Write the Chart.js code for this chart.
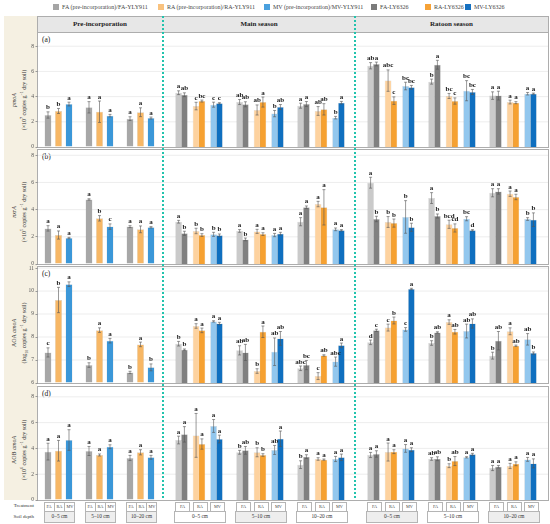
<!DOCTYPE html>
<html><head><meta charset="utf-8">
<script src="https://cdn.jsdelivr.net/npm/chart.js@4.4.1/dist/chart.umd.min.js"></script>
<style>
body{margin:0;width:550px;height:524px;position:relative;background:#fff;font-family:"Liberation Serif",serif;overflow:hidden;color:#222}
.a{position:absolute;box-sizing:border-box}
canvas{position:absolute}
.box{border:1px solid #adadad}
.leg{position:absolute;top:3px;font-size:6px;line-height:8px;white-space:nowrap;color:#444}
.leg i{display:inline-block;width:6px;height:6px;vertical-align:-1px;margin-right:3px}
.yt{position:absolute;width:140px;height:22px;transform:rotate(-90deg);text-align:center;font-size:6px;line-height:10px;white-space:nowrap;color:#333}
.yt sup,.yt sub{font-size:4px;line-height:0}
.tb{position:absolute;border:0.6px solid #b5b5b5;font-size:4.3px;text-align:center;color:#444;background:#fff}
.db{position:absolute;border:0.6px solid #b5b5b5;font-size:5.3px;text-align:center;color:#333}
.hd{position:absolute;top:16px;height:16px;line-height:16px;font-size:7px;font-weight:bold;text-align:center;color:#222}
.dash{position:absolute;top:16px;height:484px;width:2px;background:repeating-linear-gradient(to bottom,#22c3ad 0px,#22c3ad 2px,rgba(255,255,255,0) 2px,rgba(255,255,255,0) 4px);z-index:5}
</style></head><body>
<script>
// ---------- categories / labels ----------
const depths = ['0–5 cm', '5–10 cm', '10–20 cm'];
const seasons = ['Pre-incorporation', 'Main season', 'Ratoon season'];
const treatments = ['FA', 'RA', 'MV'];
const seriesNames = ['FA (pre-incorporation)/FA-YLY911', 'RA (pre-incorporation)/RA-YLY911', 'MV (pre-incorporation)/MV-YLY911', 'FA-LY6326', 'RA-LY6326', 'MV-LY6326'];
// each array: pre(0–5,5–10,10–20), main(0–5,5–10,10–20), ratoon(0–5,5–10,10–20)

// ---------- (a) pmoA ----------
const a_FA911 = [2.54, 3.15, 2.25, 4.31, 3.57, 3.28, 6.45, 5.19, 4.08];
const a_FA911_sd = [0.25, 0.45, 0.15, 0.15, 0.2, 0.2, 0.25, 0.2, 0.3];
const a_FA911_sig = ['b', 'a', 'a', 'a', 'ab', 'a', 'ab', 'b', 'a'];
const a_FA6326 = [null, null, null, 4.15, 3.39, 3.41, 6.59, 6.53, 4.08];
const a_FA6326_sd = [0, 0, 0, 0.15, 0.2, 0.2, 0.15, 0.35, 0.35];
const a_FA6326_sig = ['', '', '', 'ab', 'ab', 'a', 'a', 'a', 'a'];
const a_RA911 = [2.86, 2.8, 2.76, 3.25, 2.94, 2.86, 5.27, 4.05, 3.57];
const a_RA911_sd = [0.2, 0.85, 0.35, 0.3, 0.4, 0.35, 0.85, 0.2, 0.15];
const a_RA911_sig = ['b', 'a', 'a', 'c', 'ab', 'ab', 'abc', 'bc', 'a'];
const a_RA6326 = [null, null, null, 3.65, 3.57, 2.99, 3.68, 3.65, 3.52];
const a_RA6326_sd = [0, 0, 0, 0.08, 0.4, 0.45, 0.3, 0.25, 0.08];
const a_RA6326_sig = ['', '', '', 'bc', 'a', 'ab', 'c', 'c', 'a'];
const a_MV911 = [3.41, 2.49, 2.3, 3.36, 2.65, 2.33, 4.84, 4.47, 4.23];
const a_MV911_sd = [0.15, 0.1, 0.08, 0.2, 0.25, 0.1, 0.3, 0.8, 0.1];
const a_MV911_sig = ['a', 'a', 'a', 'c', 'b', 'b', 'bc', 'bc', 'a'];
const a_MV6326 = [null, null, null, 3.47, 3.17, 3.52, 4.74, 4.37, 4.23];
const a_MV6326_sd = [0, 0, 0, 0.05, 0.2, 0.1, 0.15, 0.2, 0.05];
const a_MV6326_sig = ['', '', '', 'c', 'ab', 'a', 'bc', 'bc', 'a'];

// ---------- (b) nxrA ----------
const b_FA911 = [2.62, 4.75, 2.75, 3.11, 2.43, 3.11, 5.98, 4.85, 5.24];
const b_FA911_sd = [0.2, 0.05, 0.07, 0.1, 0.1, 0.3, 0.4, 0.4, 0.3];
const b_FA911_sig = ['a', 'a', 'a', 'a', 'a', 'a', 'a', 'a', 'a'];
const b_FA6326 = [null, null, null, 2.26, 1.81, 4.17, 3.31, 3.53, 5.34];
const b_FA6326_sd = [0, 0, 0, 0.15, 0.1, 0.1, 0.2, 0.15, 0.2];
const b_FA6326_sig = ['', '', '', 'b', 'b', 'a', 'b', 'b', 'a'];
const b_RA911 = [2.13, 3.36, 2.55, 2.43, 2.4, 4.41, 3.09, 2.92, 5.17];
const b_RA911_sd = [0.3, 0.2, 0.25, 0.2, 0.15, 0.2, 0.4, 0.3, 0.2];
const b_RA911_sig = ['a', 'b', 'a', 'b', 'a', 'a', 'b', 'bcd', 'a'];
const b_RA6326 = [null, null, null, 2.13, 2.2, 4.17, 3.01, 2.65, 4.93];
const b_RA6326_sd = [0, 0, 0, 0.1, 0.1, 1.3, 0.3, 0.3, 0.2];
const b_RA6326_sig = ['', '', '', 'b', 'a', 'a', 'b', 'cd', 'a'];
const b_MV911 = [1.91, 2.75, 2.7, 2.18, 2.13, 2.55, 3.46, 3.33, 3.31];
const b_MV911_sd = [0.05, 0.2, 0.05, 0.15, 0.12, 0.1, 1.2, 0.15, 0.1];
const b_MV911_sig = ['a', 'c', 'a', 'b', 'a', 'a', 'b', 'bc', 'b'];
const b_MV6326 = [null, null, null, 2.11, 2.23, 2.48, 2.7, 2.48, 3.26];
const b_MV6326_sd = [0, 0, 0, 0.1, 0.1, 0.05, 0.3, 0.05, 0.5];
const b_MV6326_sig = ['', '', '', 'b', 'a', 'a', 'b', 'd', 'b'];

// ---------- (c) AOA amoA (log10) ----------
const c_FA911 = [7.33, 6.78, 6.46, 7.71, 7.42, 6.64, 7.77, 7.74, 7.19];
const c_FA911_sd = [0.2, 0.1, 0.05, 0.1, 0.2, 0.1, 0.1, 0.1, 0.15];
const c_FA911_sig = ['c', 'b', 'b', 'b', 'ab', 'abc', 'd', 'b', 'b'];
const c_FA6326 = [null, null, null, 7.45, 7.33, 6.78, 8.29, 8.2, 7.84];
const c_FA6326_sd = [0, 0, 0, 0.03, 0.35, 0.2, 0.05, 0.03, 0.4];
const c_FA6326_sig = ['', '', '', 'b', 'ab', 'bc', 'c', 'ab', 'ab'];
const c_RA911 = [9.61, 8.3, 7.68, 8.48, 6.52, 6.3, 8.41, 8.65, 8.25];
const c_RA911_sd = [0.55, 0.1, 0.1, 0.1, 0.1, 0.15, 0.15, 0.1, 0.15];
const c_RA911_sig = ['b', 'a', 'a', 'a', 'b', 'c', 'c', 'a', 'a'];
const c_RA6326 = [null, null, null, 8.29, 8.23, 7.2, 8.72, 8.23, 7.62];
const c_RA6326_sd = [0, 0, 0, 0.1, 0.25, 0.03, 0.15, 0.1, 0.03];
const c_RA6326_sig = ['', '', '', 'a', 'a', 'ab', 'b', 'ab', 'ab'];
const c_MV911 = [10.3, 7.84, 6.68, 8.68, 7.36, 6.93, 8.33, 8.26, 7.9];
const c_MV911_sd = [0.1, 0.1, 0.15, 0.03, 0.6, 0.2, 0.08, 0.3, 0.25];
const c_MV911_sig = ['a', 'a', 'b', 'a', 'ab', 'abc', 'c', 'ab', 'ab'];
const c_MV6326 = [null, null, null, 8.59, 7.94, 7.64, 10.09, 8.59, 7.3];
const c_MV6326_sd = [0, 0, 0, 0.05, 0.3, 0.1, 0.03, 0.2, 0.05];
const c_MV6326_sig = ['', '', '', 'a', 'ab', 'a', 'a', 'ab', 'b'];

// ---------- (d) AOB amoA ----------
const d_FA911 = [3.75, 3.8, 3.26, 4.65, 3.7, 2.74, 3.49, 3.18, 2.48];
const d_FA911_sd = [0.65, 0.35, 0.2, 0.3, 0.15, 0.3, 0.2, 0.1, 0.2];
const d_FA911_sig = ['a', 'a', 'a', 'a', 'b', 'b', 'a', 'ab', 'a'];
const d_FA6326 = [null, null, null, 5.09, 3.85, 3.36, 3.57, 3.2, 2.58];
const d_FA6326_sd = [0, 0, 0, 0.6, 0.3, 0.15, 0.25, 0.15, 0.1];
const d_FA6326_sig = ['', '', '', 'a', 'ab', 'a', 'a', 'ab', 'a'];
const d_RA911 = [3.82, 3.49, 3.7, 5.01, 3.7, 3.18, 3.72, 2.66, 2.64];
const d_RA911_sd = [0.8, 0.08, 0.2, 1.7, 0.35, 0.1, 0.7, 0.15, 0.2];
const d_RA911_sig = ['a', 'a', 'a', 'a', 'b', 'a', 'a', 'b', 'a'];
const d_RA6326 = [null, null, null, 4.34, 3.49, 3.13, 3.75, 3.02, 2.81];
const d_RA6326_sd = [0, 0, 0, 0.4, 0.1, 0.05, 0.15, 0.35, 0.15];
const d_RA6326_sig = ['', '', '', 'a', 'b', 'a', 'a', 'ab', 'a'];
const d_MV911 = [4.65, 4.13, 3.31, 5.74, 3.88, 3.18, 4.0, 3.31, 3.15];
const d_MV911_sd = [0.8, 0.15, 0.15, 0.5, 0.35, 0.2, 0.3, 0.05, 0.15];
const d_MV911_sig = ['a', 'a', 'a', 'a', 'ab', 'a', 'a', 'a', 'a'];
const d_MV6326 = [null, null, null, 4.73, 4.75, 3.31, 3.9, 3.54, 2.84];
const d_MV6326_sd = [0, 0, 0, 0.3, 0.6, 0.25, 0.15, 0.08, 0.35];
const d_MV6326_sig = ['', '', '', 'a', 'a', 'a', 'a', 'a', 'a'];

// ---------- axis ticks ----------
const ticks_a = [0, 2, 4, 6, 8];
const ticks_b = [0, 2, 4, 6, 8];
const ticks_c = [6, 7, 8, 9, 10, 11];
const ticks_d = [0, 2, 4, 6, 8];

// ---------- styling ----------
const preColors = ['#a7a7a7', '#f7b765', '#3b97d8'];
const c911Colors = ['#cacaca', '#fdd29f', '#92c7ee'];
const c6326Colors = ['#808080', '#f6a131', '#0f6fbf'];
const legendColors = ['#a5a5a5', '#f9c27e', '#4aa0de', '#7b7b7b', '#f6a236', '#1570c0'];

const panels = [
  {id: '(a)', top: 32, bottom: 147, min: 0, max: 9.13, ticks: ticks_a, titleY: 100,
   t1: '<i>pmoA</i>', t2: '(×10<sup>7</sup> copies g<sup>−1</sup> dry soil)',
   s: [[a_FA911, a_FA911_sd, a_FA911_sig], [a_RA911, a_RA911_sd, a_RA911_sig], [a_MV911, a_MV911_sd, a_MV911_sig]],
   s2: [[a_FA6326, a_FA6326_sd, a_FA6326_sig], [a_RA6326, a_RA6326_sd, a_RA6326_sig], [a_MV6326, a_MV6326_sd, a_MV6326_sig]]},
  {id: '(b)', top: 149, bottom: 264, min: 0, max: 8.46, ticks: ticks_b, titleY: 212,
   t1: '<i>nxrA</i>', t2: '(×10<sup>5</sup> copies g<sup>−1</sup> dry soil)',
   s: [[b_FA911, b_FA911_sd, b_FA911_sig], [b_RA911, b_RA911_sd, b_RA911_sig], [b_MV911, b_MV911_sd, b_MV911_sig]],
   s2: [[b_FA6326, b_FA6326_sd, b_FA6326_sig], [b_RA6326, b_RA6326_sd, b_RA6326_sig], [b_MV6326, b_MV6326_sd, b_MV6326_sig]]},
  {id: '(c)', top: 266, bottom: 383, min: 6, max: 11.09, ticks: ticks_c, titleY: 333,
   t1: 'AOA <i>amoA</i>', t2: '(log<sub>10</sub> copies g<sup>−1</sup> dry soil)',
   s: [[c_FA911, c_FA911_sd, c_FA911_sig], [c_RA911, c_RA911_sd, c_RA911_sig], [c_MV911, c_MV911_sd, c_MV911_sig]],
   s2: [[c_FA6326, c_FA6326_sd, c_FA6326_sig], [c_RA6326, c_RA6326_sd, c_RA6326_sig], [c_MV6326, c_MV6326_sd, c_MV6326_sig]]},
  {id: '(d)', top: 386, bottom: 500, min: 0, max: 8.84, ticks: ticks_d, titleY: 450,
   t1: 'AOB <i>amoA</i>', t2: '(×10<sup>6</sup> copies g<sup>−1</sup> dry soil)',
   s: [[d_FA911, d_FA911_sd, d_FA911_sig], [d_RA911, d_RA911_sd, d_RA911_sig], [d_MV911, d_MV911_sd, d_MV911_sig]],
   s2: [[d_FA6326, d_FA6326_sd, d_FA6326_sig], [d_RA6326, d_RA6326_sd, d_RA6326_sig], [d_MV6326, d_MV6326_sd, d_MV6326_sig]]}
];

// column geometry: canvas left, width, chart-area padding
const cols = [
  {left: 0, width: 163, padL: 0, padR: 2, gx0: 38},
  {left: 163, width: 192, padL: 5.5, padR: 3.5, gx0: 0},
  {left: 355, width: 193, padL: 5.5, padR: 4.5, gx0: 0}
];
const depthBg = [['#eeeeee', '#eeeeee', '#eeeeee'], ['#ffffff', '#eeeeee', '#ffffff'], ['#eeeeee', '#ffffff', '#eeeeee']];

const body = document.body;
function el(cls, css, html) {
  const d = document.createElement('div');
  d.className = cls; d.style.cssText = css; if (html != null) d.innerHTML = html;
  body.appendChild(d); return d;
}

// background pieces
el('a', 'left:4px;top:16px;width:33px;height:484px;background:#f5f0e2');
el('a box', 'left:37px;top:16px;width:512px;height:17px;background:#e7e7e7');
seasons.forEach((s, i) => {
  const x0 = [37, 163, 355][i], x1 = [163, 355, 548][i];
  el('hd', `left:${x0}px;width:${x1 - x0}px`, s);
});
panels.forEach(p => {
  el('a box', `left:37px;top:${p.top}px;width:512px;height:${p.bottom - p.top + 1}px`);
  el('a', `left:42px;top:${p.top + 3}px;font-size:7.5px;color:#222`, p.id);
  el('yt', `left:${20 - 70}px;top:${p.titleY - 11}px`, p.t1 + '<br>' + p.t2);
});
// legend
const legX = [53, 158, 264, 371, 425, 465];
seriesNames.forEach((n, i) => {
  el('leg', `left:${legX[i]}px`, `<i style="background:${legendColors[i]}"></i>${n}`);
});
el('a', 'left:0;top:502px;width:34px;text-align:right;font-size:5px;line-height:8px;color:#333', 'Treatment');
el('a', 'left:0;top:511.5px;width:34px;text-align:right;font-size:5px;line-height:9px;color:#333', 'Soil depth');

// plugin: grid lines, error bars, letters
const markPlugin = {
  id: 'marks',
  beforeDatasetsDraw(chart, args, opts) {
    const y = chart.scales.y, ctx = chart.ctx;
    ctx.save(); ctx.strokeStyle = '#e9e9e9'; ctx.lineWidth = 0.8;
    opts.grid.forEach(v => {
      const py = y.getPixelForValue(v);
      ctx.beginPath(); ctx.moveTo(opts.x0, py); ctx.lineTo(opts.x1, py); ctx.stroke();
    });
    ctx.restore();
  },
  afterDatasetsDraw(chart) {
    const y = chart.scales.y, ctx = chart.ctx;
    ctx.save();
    chart.data.datasets.forEach((ds, di) => {
      if (ds.spacer) return;
      chart.getDatasetMeta(di).data.forEach((bar, i) => {
        const v = ds.data[i]; if (v == null) return;
        const e = ds.errs[i] || 0;
        const yt = y.getPixelForValue(v + e), yb = y.getPixelForValue(v - e);
        ctx.strokeStyle = '#555'; ctx.lineWidth = 0.6;
        ctx.beginPath();
        ctx.moveTo(bar.x, yt); ctx.lineTo(bar.x, yb);
        ctx.moveTo(bar.x - 1.5, yt); ctx.lineTo(bar.x + 1.5, yt);
        ctx.moveTo(bar.x - 1.5, yb); ctx.lineTo(bar.x + 1.5, yb);
        ctx.stroke();
        ctx.fillStyle = '#222'; ctx.font = 'bold 7px "Liberation Serif"';
        ctx.textAlign = 'center'; ctx.textBaseline = 'bottom';
        ctx.fillText(ds.sigs[i], bar.x, yt - 0.8);
      });
    });
    ctx.restore();
  }
};

const charts = [];
panels.forEach((p, pi) => {
  cols.forEach((c, ci) => {
    const idx = [ci * 3, ci * 3 + 1, ci * 3 + 2];
    const pick = arr => idx.map(i => arr[i]);
    const mk = (src, color, label, extra) => Object.assign({
      label, data: pick(src[0]), errs: pick(src[1]), sigs: pick(src[2]),
      backgroundColor: color, borderColor: 'rgba(0,0,0,0.18)', borderWidth: 0.5, base: p.min
    }, extra);
    const spacer = () => ({label: '', data: [null, null, null], spacer: true, errs: [], sigs: [],
      categoryPercentage: 0.765, barPercentage: 1.15});
    let datasets;
    if (ci === 0) {
      const g = {categoryPercentage: 0.768, barPercentage: 0.667};
      datasets = [0, 1, 2].map(k => mk(p.s[k], preColors[k], seriesNames[k], g));
    } else {
      const g = {categoryPercentage: 0.765, barPercentage: 1.15};
      datasets = [];
      [0, 1, 2].forEach(k => {
        datasets.push(mk(p.s[k], c911Colors[k], seriesNames[k], g));
        datasets.push(mk(p.s2[k], c6326Colors[k], seriesNames[k + 3], g));
        if (k < 2) datasets.push(spacer());
      });
    }
    const cv = document.createElement('canvas');
    const h = p.bottom - p.top + 12;
    cv.width = c.width; cv.height = h;
    cv.style.cssText = `left:${c.left}px;top:${p.top - 6}px;width:${c.width}px;height:${h}px;z-index:2`;
    body.appendChild(cv);
    const tv = p.ticks;
    const yAxis = {display: ci === 0, min: p.min, max: p.max,
      afterBuildTicks: s => { s.ticks = tv.map(v => ({value: v})); },
      ticks: {font: {family: 'Liberation Serif', size: 5.5}, color: '#555', padding: 1.5},
      grid: {drawOnChartArea: false, drawTicks: true, tickLength: 2.5, color: '#999'},
      border: {display: false}};
    if (ci === 0) yAxis.afterFit = s => { s.width = 38; };
    const ch = new Chart(cv, {
      type: 'bar',
      data: {labels: depths, datasets},
      options: {
        responsive: false, animation: false,
        layout: {padding: {top: 6, bottom: 6, left: c.padL, right: c.padR}},
        plugins: {legend: {display: false}, tooltip: {enabled: false},
          marks: {x0: c.gx0, x1: c.width, grid: tv.slice(1)}},
        scales: {
          x: {display: false, offset: true},
          y: yAxis
        }
      },
      plugins: [markPlugin]
    });
    charts.push({ch, ci, pi, c});
  });
});

// treatment / soil depth rows from bar positions of bottom panel
charts.filter(o => o.pi === 3).forEach(o => {
  const ch = o.ch, ci = o.ci, off = o.c.left;
  for (let g = 0; g < 3; g++) {
    let first, last;
    if (ci === 0) {
      [0, 1, 2].forEach(k => {
        const b = ch.getDatasetMeta(k).data[g];
        el('tb', `left:${off + b.x - 4.5}px;top:502px;width:9px;height:8px;line-height:7px`, treatments[k]);
      });
      first = ch.getDatasetMeta(0).data[g]; last = ch.getDatasetMeta(2).data[g];
    } else {
      [0, 1, 2].forEach(k => {
        const b1 = ch.getDatasetMeta(k * 3).data[g], b2 = ch.getDatasetMeta(k * 3 + 1).data[g];
        const cx = (b1.x + b2.x) / 2;
        el('tb', `left:${off + cx - 6.5}px;top:502px;width:13px;height:8px;line-height:7px`, treatments[k]);
      });
      first = ch.getDatasetMeta(0).data[g]; last = ch.getDatasetMeta(7).data[g];
    }
    const x0 = off + first.x - first.width / 2 - 1, x1 = off + last.x + last.width / 2 + 1;
    el('db', `left:${x0}px;top:511px;width:${x1 - x0}px;height:10px;line-height:9px;background:${depthBg[ci][g]}`, depths[g]);
  }
});
// dashed separators
el('dash', 'left:162px');
el('dash', 'left:354px');
</script>
</body></html>
